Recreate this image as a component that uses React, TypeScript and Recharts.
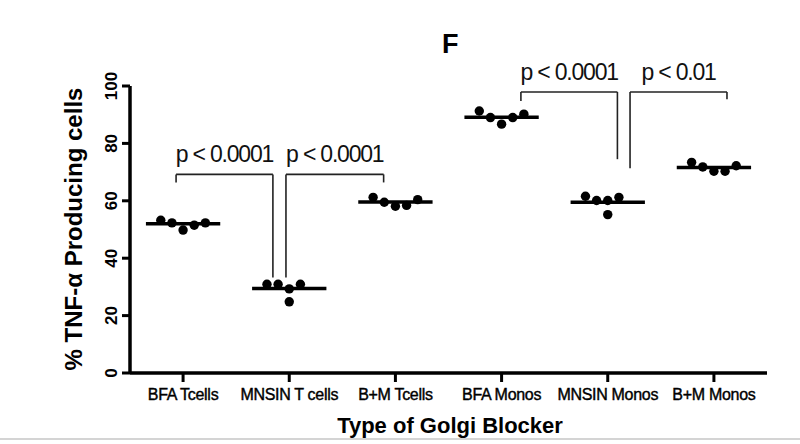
import { ComposedChart, Scatter, XAxis, YAxis, ReferenceLine } from 'recharts'

// Golgi blocker groups, in axis order
const GROUPS = ['BFA Tcells', 'MNSIN T cells', 'B+M Tcells', 'BFA Monos', 'MNSIN Monos', 'B+M Monos']

// % TNF-α producing cells, one value per donor
const BFA_T = [53.2, 52.3, 49.8, 51.5, 52.3]
const MNSIN_T = [30.9, 30.9, 29.3, 30.9, 24.8]
const BM_T = [61.2, 59.5, 58.1, 58.4, 60.4]
const BFA_M = [91.3, 89.0, 86.7, 89.0, 90.2]
const MNSIN_M = [61.6, 60.1, 60.1, 61.2, 55.2]
const BM_M = [73.4, 71.8, 70.3, 70.3, 72.2]
const SERIES = [BFA_T, MNSIN_T, BM_T, BFA_M, MNSIN_M, BM_M]

// median bars
const MEDIANS = [52.0, 29.4, 59.6, 89.1, 59.5, 71.6]

const Y_TICKS = [0, 20, 40, 60, 80, 100]

// significance brackets (x in category units, y in %)
const BRACKETS = [
  { x1: 0.434, x2: 1.346, top: 69.2, left: 66.4, right: 33.3, text: 'p < 0.0001' },
  { x1: 1.469, x2: 2.389, top: 69.2, left: 33.3, right: 66.4, text: 'p < 0.0001' },
  { x1: 3.682, x2: 4.591, top: 97.9, left: 94.8, right: 74.5, text: 'p < 0.0001' },
  { x1: 4.71, x2: 5.623, top: 97.9, left: 71.3, right: 95.4, text: 'p < 0.01' },
]

// column-scatter layout: horizontal slots for each point
const SLOT = 0.105
const ROW = [-2, -1, 0, 1, 2]
const STACKED = [-2, -1, 0, 1, 0] // low point sits under the middle one
const STACKED_GROUPS = [1, 4]
const HALF_BAR = 0.35

const FONT = '"Liberation Sans", Arial, sans-serif'

const points = SERIES.flatMap((vals, g) =>
  vals.map((v, i) => ({
    x: g + 0.5 + (STACKED_GROUPS.includes(g) ? STACKED : ROW)[i] * SLOT,
    y: v,
  }))
)

const xTicks = GROUPS.map((_, i) => i + 0.5)

function renderDot(props: any) {
  return <circle cx={props.cx} cy={props.cy} r={4.7} fill="#000" />
}

function renderXTick(props: any) {
  const { x, y, payload } = props
  return (
    <text
      x={x}
      y={y}
      dy={14}
      textAnchor="middle"
      fontSize={16}
      fontFamily={FONT}
      fill="#000"
      stroke="#000"
      strokeWidth={0.4}
      letterSpacing={-0.3}
    >
      {GROUPS[Math.round(payload.value - 0.5)]}
    </text>
  )
}

function renderYTick(props: any) {
  const { x, y, payload } = props
  return (
    <text
      transform={`translate(${x},${y}) rotate(-90)`}
      textAnchor="middle"
      fontSize={17}
      fontWeight="bold"
      fontFamily={FONT}
      fill="#000"
    >
      {payload.value}
    </text>
  )
}

function pLabel(text: string) {
  return (props: any) => {
    const vb = props.viewBox || {}
    const cx = vb.x1 != null ? (vb.x1 + vb.x2) / 2 : vb.x + (vb.width || 0) / 2
    const top = vb.y1 != null ? Math.min(vb.y1, vb.y2) : vb.y
    return (
      <text
        x={cx}
        y={top - 12}
        textAnchor="middle"
        fontSize={23}
        letterSpacing={-1.2}
        fontFamily={FONT}
        fill="#111"
      >
        {text}
      </text>
    )
  }
}

export default function App() {
  return (
    <div style={{ position: 'relative', width: 800, height: 444, background: '#fff' }}>
      <style>{'body{margin:0}'}</style>
      <ComposedChart width={800} height={444} margin={{ top: 86, right: 33, bottom: 0, left: 70 }}>
        <XAxis
          dataKey="x"
          type="number"
          domain={[0, 6]}
          ticks={xTicks}
          interval={0}
          allowDataOverflow
          tick={renderXTick}
          tickSize={9}
          tickMargin={4}
          height={71}
          axisLine={{ stroke: '#000', strokeWidth: 3.5 }}
          tickLine={{ stroke: '#000', strokeWidth: 3 }}
        />
        <YAxis
          dataKey="y"
          type="number"
          domain={[0, 100]}
          ticks={Y_TICKS}
          interval={0}
          tick={renderYTick}
          tickSize={8}
          tickMargin={5}
          width={60}
          axisLine={{ stroke: '#000', strokeWidth: 3.5 }}
          tickLine={{ stroke: '#000', strokeWidth: 3 }}
        />
        {MEDIANS.map((m, g) => (
          <ReferenceLine
            key={`med-${g}`}
            segment={[
              { x: g + 0.5 - HALF_BAR, y: m },
              { x: g + 0.5 + HALF_BAR, y: m },
            ]}
            stroke="#000"
            strokeWidth={3.5}
            ifOverflow="visible"
          />
        ))}
        {BRACKETS.flatMap((b, i) => [
          <ReferenceLine
            key={`bl-${i}`}
            segment={[
              { x: b.x1, y: b.top },
              { x: b.x1, y: b.left },
            ]}
            stroke="#222"
            strokeWidth={1.6}
            ifOverflow="visible"
          />,
          <ReferenceLine
            key={`bt-${i}`}
            segment={[
              { x: b.x1, y: b.top },
              { x: b.x2, y: b.top },
            ]}
            stroke="#222"
            strokeWidth={1.6}
            ifOverflow="visible"
            label={{ content: pLabel(b.text) }}
          />,
          <ReferenceLine
            key={`br-${i}`}
            segment={[
              { x: b.x2, y: b.top },
              { x: b.x2, y: b.right },
            ]}
            stroke="#222"
            strokeWidth={1.6}
            ifOverflow="visible"
          />,
        ])}
        <Scatter data={points} dataKey="y" shape={renderDot} isAnimationActive={false} />
      </ComposedChart>
      <svg
        width={800}
        height={444}
        style={{ position: 'absolute', left: 0, top: 0, pointerEvents: 'none' }}
      >
        <text x={442} y={53} fontSize={27} fontWeight="bold" fontFamily={FONT} fill="#000">
          F
        </text>
        <text
          transform="translate(82,229) rotate(-90)"
          textAnchor="middle"
          fontSize={24}
          fontWeight="bold"
          fontFamily={FONT}
          fill="#000"
        >
          % TNF-α Producing cells
        </text>
        <text x={450} y={433} textAnchor="middle" fontSize={22} fontWeight="bold" fontFamily={FONT} fill="#000">
          Type of Golgi Blocker
        </text>
      </svg>
      <div style={{ position: 'absolute', left: 0, top: 438, width: 800, height: 2, background: '#d4d4d4' }} />
    </div>
  )
}
